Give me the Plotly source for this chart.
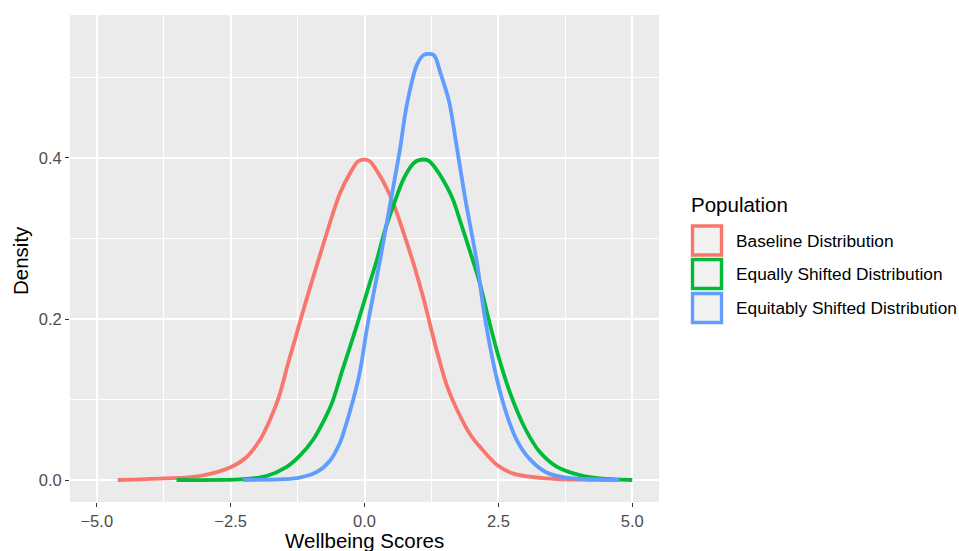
import plotly.graph_objects as go

# ---- data ----
baseline_x = [-4.61, -3.75, -3.08, -2.5, -2.21, -1.96, -1.77, -1.6, -1.43, -1.27, -1.19, -0.99,
              -0.8, -0.61, -0.46, -0.27, -0.12, 0.0, 0.1, 0.26, 0.41, 0.57, 0.73, 0.91, 1.1,
              1.21, 1.36, 1.54, 1.73, 1.98, 2.16, 2.47, 2.78, 3.4, 4.0, 4.7]
baseline_y = [0.0, 0.002, 0.005, 0.016, 0.028, 0.049, 0.074, 0.103, 0.144, 0.181, 0.2, 0.245,
              0.286, 0.327, 0.356, 0.381, 0.396, 0.398, 0.396, 0.381, 0.363, 0.338, 0.307, 0.27,
              0.226, 0.197, 0.158, 0.117, 0.087, 0.056, 0.041, 0.019, 0.008, 0.002, 0.0005, 0.0]

equal_x = [-3.51, -2.27, -1.83, -1.46, -1.21, -0.96, -0.75, -0.6, -0.42, -0.2, -0.05, 0.1, 0.23,
           0.38, 0.54, 0.73, 0.91, 1.0, 1.19, 1.35, 1.54, 1.66, 1.78, 1.97, 2.16, 2.28, 2.5,
           2.72, 3.0, 3.27, 3.58, 4.02, 4.39, 5.0]
equal_y = [0.0, 0.001, 0.005, 0.016, 0.03, 0.05, 0.075, 0.097, 0.135, 0.18, 0.212, 0.245, 0.273,
           0.31, 0.341, 0.374, 0.393, 0.397, 0.397, 0.385, 0.364, 0.347, 0.323, 0.284, 0.243,
           0.21, 0.154, 0.108, 0.064, 0.035, 0.017, 0.006, 0.002, 0.0]

equit_x = [-2.27, -1.52, -1.21, -0.89, -0.645, -0.46, -0.4, -0.21, -0.084, 0.05, 0.29, 0.48,
           0.66, 0.79, 0.98, 1.11, 1.29, 1.42, 1.58, 1.72, 1.88, 2.1, 2.24, 2.42, 2.61, 2.84,
           3.1, 3.41, 3.77, 4.76]
equit_y = [0.0, 0.001, 0.003, 0.01, 0.024, 0.046, 0.057, 0.1, 0.135, 0.19, 0.273, 0.343,
           0.41, 0.466, 0.516, 0.528, 0.528, 0.505, 0.47, 0.415, 0.35, 0.27, 0.205, 0.141,
           0.091, 0.05, 0.025, 0.009, 0.003, 0.0]

series_names = ["Baseline Distribution", "Equally Shifted Distribution", "Equitably Shifted Distribution"]
series_colors = ["#F8766D", "#00BA38", "#619CFF"]

x_tickvals = [-5.0, -2.5, 0.0, 2.5, 5.0]
x_ticktext = ["\u22125.0", "\u22122.5", "0.0", "2.5", "5.0"]
y_tickvals = [0.0, 0.2, 0.4]
y_ticktext = ["0.0", "0.2", "0.4"]

# ---- layout geometry (pixels) ----
W, H = 959, 551
PL, PR, PT, PB = 70, 659, 15, 502
FONT = "Liberation Sans, Arial, Helvetica, sans-serif"


def px(xp):
    return (xp - PL) / (PR - PL)


def py(yp):
    return (PB - yp) / (PB - PT)


fig = go.Figure()
for xs, ys, name, col in zip([baseline_x, equal_x, equit_x], [baseline_y, equal_y, equit_y],
                             series_names, series_colors):
    fig.add_trace(go.Scatter(x=xs, y=ys, mode="lines", name=name,
                             line=dict(color=col, width=3.8, shape="spline", smoothing=0.9),
                             showlegend=False, hoverinfo="skip"))

fig.update_layout(
    width=W, height=H,
    margin=dict(l=PL, r=W - PR, t=PT, b=H - PB, pad=0),
    paper_bgcolor="white", plot_bgcolor="#EBEBEB",
    font=dict(family=FONT, color="#4D4D4D", size=16.5),
    showlegend=False,
)
fig.update_xaxes(range=[-5.5, 5.5], tickvals=x_tickvals, ticktext=x_ticktext,
                 showgrid=True, gridcolor="white", gridwidth=2, zeroline=False, showline=False,
                 ticks="outside", ticklen=4, tickcolor="#333333", tickwidth=1.2,
                 tickfont=dict(size=16.5, color="#4D4D4D"),
                 minor=dict(dtick=1.25, tick0=0, showgrid=True, gridcolor="white", gridwidth=1))
fig.update_yaxes(range=[-0.0273, 0.5776], tickvals=y_tickvals, ticktext=y_ticktext,
                 showgrid=True, gridcolor="white", gridwidth=2, zeroline=False, showline=False,
                 ticks="outside", ticklen=4, tickcolor="#333333", tickwidth=1.2,
                 tickfont=dict(size=16.5, color="#4D4D4D"),
                 minor=dict(dtick=0.1, tick0=0, showgrid=True, gridcolor="white", gridwidth=1))

# axis titles
fig.add_annotation(text="Wellbeing Scores", xref="paper", yref="paper", x=0.5, y=py(527),
                   xanchor="center", yanchor="top", showarrow=False,
                   font=dict(family=FONT, size=20.5, color="black"))
fig.add_annotation(text="Density", xref="paper", yref="paper", x=px(20), y=py(261),
                   xanchor="center", yanchor="middle", textangle=-90, showarrow=False,
                   font=dict(family=FONT, size=20.5, color="black"))

# legend drawn by hand to mimic ggplot keys
fig.add_annotation(text="Population", xref="paper", yref="paper", x=px(689), y=py(204),
                   xanchor="left", yanchor="middle", showarrow=False,
                   font=dict(family=FONT, size=20.5, color="black"))
centers = [240.5, 274, 308]
for c, name, col in zip(centers, series_names, series_colors):
    fig.add_shape(type="rect", xref="paper", yref="paper",
                  x0=px(692.5), x1=px(721.5), y0=py(c + 14.5), y1=py(c - 14.5),
                  line=dict(color=col, width=3.4), fillcolor="#F2F2F2", layer="above")
    fig.add_annotation(text=name, xref="paper", yref="paper", x=px(734), y=py(c),
                       xanchor="left", yanchor="middle", showarrow=False,
                       font=dict(family=FONT, size=17.3, color="black"))

fig.write_html("out.html", config={"displayModeBar": False},
               post_script="document.body.style.margin='0px';")
